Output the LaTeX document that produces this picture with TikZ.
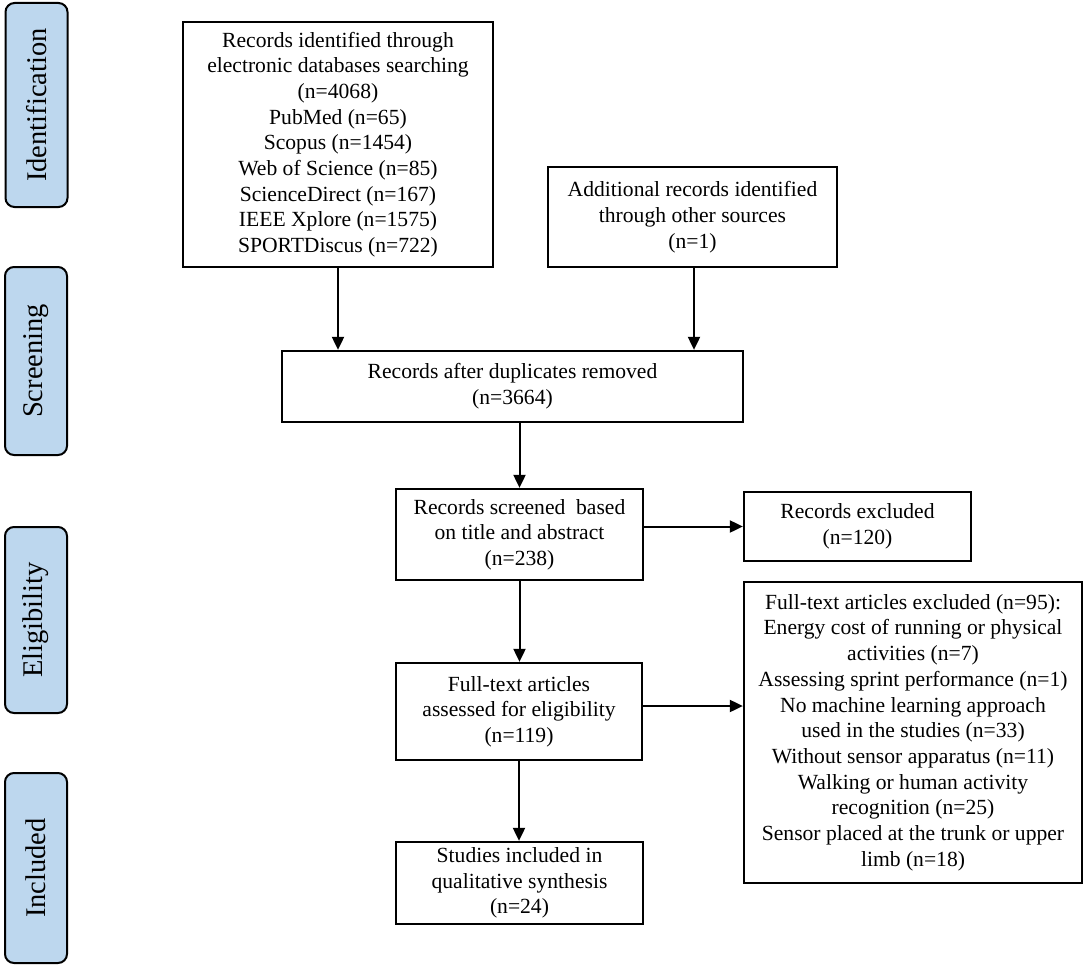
\documentclass[tikz,border=0pt]{standalone}
\usepackage{fontspec}
\setmainfont{Liberation Serif}
\usetikzlibrary{arrows.meta}
\definecolor{labelblue}{RGB}{189,215,238}
\begin{document}
\begin{tikzpicture}[x=1pt,y=-1pt,
  flowbox/.style={draw=black, line width=2.3pt, rectangle, inner sep=0pt, align=center,
    font=\fontsize{21.6}{25.7}\selectfont},
  phase/.style={draw=black, line width=2pt, fill=labelblue, rounded corners=9pt, inner sep=0pt,
    minimum width=62pt},
  phasetext/.style={rotate=90, font=\fontsize{28.5}{30}\selectfont},
  arr/.style={line width=2pt, -{Triangle[length=13pt,width=12pt]}}]
\useasboundingbox (0,0) rectangle (1084,966);

% phase labels
\node[phase, minimum height=204pt] (pid) at (36.5,105) {};
\node[phasetext] (tid) at (pid.center) {Identification};
\node[phase, minimum height=188pt] (psc) at (36,361) {};
\node[phasetext] (tsc) at (psc.center) {Screening};
\node[phase, minimum height=186pt] (pel) at (36,620) {};
\node[phasetext] (tel) at (pel.center) {Eligibility};
\node[phase, minimum height=190pt] (pin) at (36,868) {};
\node[phasetext] (tin) at (pin.center) {Included};

% flow boxes
\node[flowbox, minimum width=310pt, minimum height=245pt] (b1) at (338,144.5)
 {Records identified through\\electronic databases searching\\(n=4068)\\PubMed (n=65)\\Scopus (n=1454)\\Web of Science (n=85)\\ScienceDirect (n=167)\\IEEE Xplore (n=1575)\\SPORTDiscus (n=722)};
\node[flowbox, minimum width=289pt, minimum height=100pt] (b2) at (692.5,217)
 {Additional records identified\\through other sources\\(n=1)};
\node[flowbox, minimum width=461pt, minimum height=71pt] (b3) at (512.5,386.5)
 {Records after duplicates removed\\(n=3664)};
\node[flowbox, minimum width=247pt, minimum height=91pt] (b4) at (519.5,534.5)
 {Records screened\ \ based\\on title and abstract\\(n=238)};
\node[flowbox, minimum width=227pt, minimum height=69pt] (b5) at (857.5,526.5)
 {Records excluded\\(n=120)};
\node[flowbox, minimum width=338pt, minimum height=301pt] (b6) at (913,732.5)
 {Full-text articles excluded (n=95):\\Energy cost of running or physical\\activities (n=7)\\Assessing sprint performance (n=1)\\No machine learning approach\\used in the studies (n=33)\\Without sensor apparatus (n=11)\\Walking or human activity\\recognition (n=25)\\Sensor placed at the trunk or upper\\limb (n=18)};
\node[flowbox, minimum width=246pt, minimum height=97pt] (b7) at (519,711.5)
 {Full-text articles\\assessed for eligibility\\(n=119)};
\node[flowbox, minimum width=247pt, minimum height=82pt] (b8) at (519.5,883)
 {Studies included in\\qualitative synthesis\\(n=24)};

% connectors
\draw[arr] (b1.south) -- (b1.south |- b3.north);
\draw[arr] ([xshift=1.5pt]b2.south) -- ([xshift=1.5pt]b2.south |- b3.north);
\draw[arr] (b4.north |- b3.south) -- (b4.north);
\draw[arr] (b4.south) -- (b4.south |- b7.north);
\draw[arr] (b7.south) -- (b7.south |- b8.north);
\draw[arr] (b4.east |- b5.west) -- (b5.west);
\coordinate (c7) at ([yshift=5.5pt]b7.east);
\draw[arr] (c7) -- (c7 -| b6.west);
\end{tikzpicture}
\end{document}
